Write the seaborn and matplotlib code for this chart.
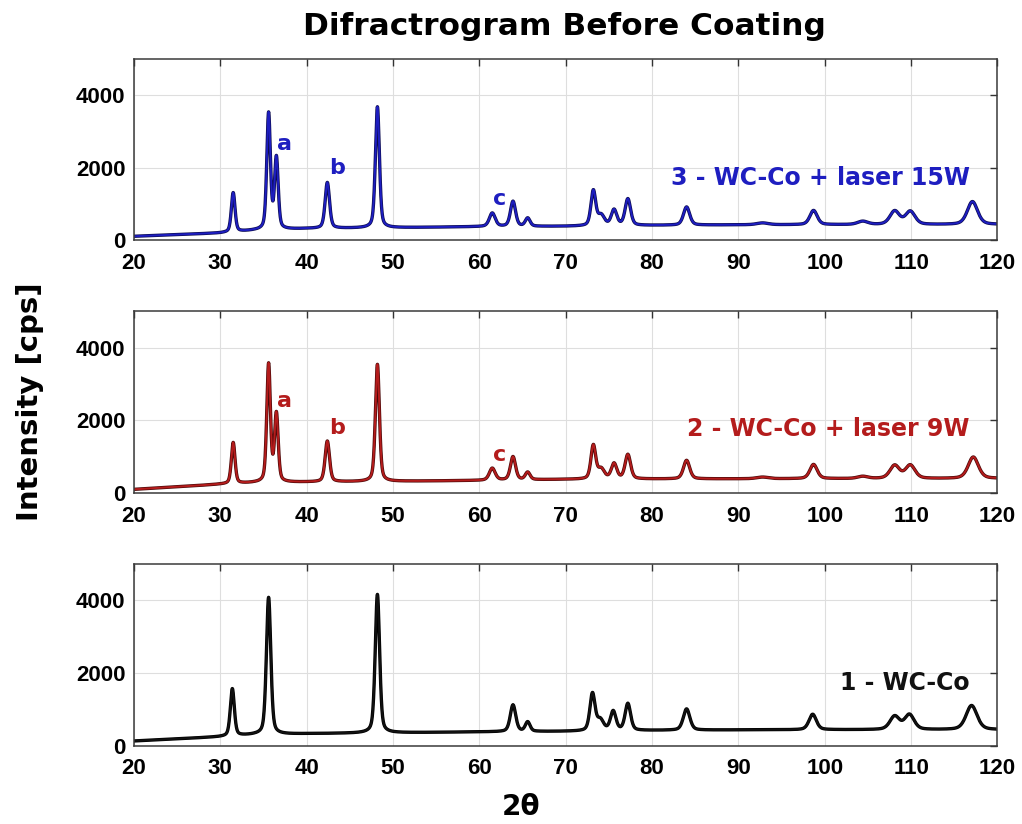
# XRD patterns of the WC-Co samples before coating
import numpy as np
import pandas as pd
import matplotlib
matplotlib.use('Agg')
import matplotlib.pyplot as plt
import matplotlib.patheffects as pe
import seaborn as sns

# --- Data (peak centre [deg], height above background [cps], FWHM [deg]) ---
# 3 - WC-Co + laser 15W
w15_pos = [31.5, 35.6, 36.5, 42.4, 48.2, 61.5, 63.9, 65.6, 73.2, 74.1, 75.6, 77.2, 84.0, 92.8, 98.7, 104.4, 108.1, 109.9, 117.1]
w15_amp = [1080, 3190, 1950, 1260, 3330, 370, 690, 225, 960, 280, 430, 730, 500, 50, 390, 90, 370, 360, 630]
w15_fwhm = [0.5, 0.5, 0.5, 0.6, 0.55, 0.8, 0.7, 0.65, 0.65, 0.9, 0.75, 0.75, 0.85, 1.6, 1.0, 1.4, 1.3, 1.3, 1.4]
w15_bg = [110, 200, 270, 320, 345, 375, 385, 410, 425, 430, 430, 435]

# 2 - WC-Co + laser 9W
w9_pos = [31.5, 35.6, 36.5, 42.4, 48.2, 61.5, 63.9, 65.6, 73.2, 74.1, 75.6, 77.2, 84.0, 92.8, 98.7, 104.4, 108.1, 109.9, 117.2]
w9_amp = [1130, 3240, 1860, 1120, 3220, 330, 640, 205, 920, 270, 420, 670, 510, 45, 390, 60, 360, 365, 590]
w9_fwhm = [0.5, 0.5, 0.5, 0.6, 0.55, 0.8, 0.7, 0.65, 0.65, 0.9, 0.75, 0.75, 0.85, 1.6, 1.0, 1.4, 1.3, 1.3, 1.4]
w9_bg = [100, 240, 280, 300, 320, 345, 375, 385, 390, 395, 395, 400]

# 1 - WC-Co
wc_pos = [31.4, 35.6, 48.2, 63.9, 65.6, 73.1, 74.0, 75.5, 77.2, 84.0, 98.6, 108.1, 109.8, 117.0]
wc_amp = [1300, 3770, 3810, 735, 260, 1020, 290, 530, 740, 585, 425, 365, 410, 665]
wc_fwhm = [0.55, 0.6, 0.6, 0.75, 0.65, 0.7, 0.9, 0.75, 0.75, 0.9, 1.0, 1.3, 1.3, 1.5]
wc_bg = [130, 245, 300, 330, 355, 380, 395, 420, 435, 440, 440, 440]

bg_x = [20, 30, 34, 40, 50, 60, 70, 80, 90, 100, 110, 120]

# labels for the marked peaks (a, b, c) in the laser panels
mark_letters = ['a', 'b', 'c']
w15_mark_x = [37.4, 43.5, 62.4]
w15_mark_y = [2640, 1980, 1130]
w9_mark_x = [37.4, 43.5, 62.4]
w9_mark_y = [2520, 1790, 1040]


def pattern(pos, amp, fwhm, bg, eta=0.4):
    tt = np.linspace(20, 120, 4001)
    y = np.interp(tt, bg_x, bg)
    for p, a, w in zip(pos, amp, fwhm):
        hw = w / 2
        lor = 1 / (1 + ((tt - p) / hw) ** 2)
        gau = np.exp(-np.log(2) * ((tt - p) / hw) ** 2)
        y = y + a * (eta * lor + (1 - eta) * gau)
    return pd.DataFrame({'two_theta': tt, 'intensity': y})


sns.set_theme(style='white')
plt.rcParams['font.family'] = ['Liberation Sans', 'DejaVu Sans']
plt.rcParams['font.weight'] = 'bold'
plt.rcParams['text.color'] = 'black'
plt.rcParams['xtick.color'] = 'black'
plt.rcParams['ytick.color'] = 'black'

panels = [
    (pattern(w15_pos, w15_amp, w15_fwhm, w15_bg), '#1e1ec0', '#0c0c50',
     '3 - WC-Co + laser 15W', 1705, w15_mark_x, w15_mark_y),
    (pattern(w9_pos, w9_amp, w9_fwhm, w9_bg), '#b41c1c', '#4a0808',
     '2 - WC-Co + laser 9W', 1750, w9_mark_x, w9_mark_y),
    (pattern(wc_pos, wc_amp, wc_fwhm, wc_bg), '#111111', '#000000',
     '1 - WC-Co', 1725, None, None),
]

fig, axes = plt.subplots(3, 1, figsize=(10.22, 8.24), dpi=100)
fig.subplots_adjust(left=0.131, right=0.976, top=0.929, bottom=0.095, hspace=0.39)

for ax, (df, col, edge, label, label_y, mx, my) in zip(axes, panels):
    sns.lineplot(data=df, x='two_theta', y='intensity', ax=ax, color=col,
                 lw=1.4, estimator=None, sort=False,
                 path_effects=[pe.Stroke(linewidth=2.4, foreground=edge), pe.Normal()])
    ax.set_xlim(20, 120)
    ax.set_ylim(0, 5000)
    ax.set_xticks(range(20, 121, 10))
    ax.set_yticks([0, 2000, 4000])
    ax.set_xlabel('')
    ax.set_ylabel('')
    ax.grid(True, color='#dedede', lw=0.8)
    ax.tick_params(axis='both', direction='in', top=True, right=True,
                   length=5, width=1, color='#333333', labelcolor='black', labelsize=16)
    ax.tick_params(axis='x', pad=9)
    ax.tick_params(axis='y', pad=6)
    for s in ax.spines.values():
        s.set_color('#3a3a3a')
        s.set_linewidth(1.1)
    ax.text(116.8, label_y, label, color=col, ha='right', va='center',
            fontsize=17, fontweight='bold', family='DejaVu Sans')
    if mx is not None:
        for letter, x, y in zip(mark_letters, mx, my):
            ax.text(x, y, letter, color=col, ha='center', va='center',
                    fontsize=16, fontweight='bold', family='DejaVu Sans')

fig.text(0.552, 0.968, 'Difractrogram Before Coating', ha='center', va='center',
         fontsize=22.5, fontweight='bold', family='DejaVu Sans', color='black')
fig.text(0.029, 0.513, 'Intensity [cps]', rotation=90, ha='center', va='center',
         fontsize=21, fontweight='bold', family='DejaVu Sans', color='black')
fig.text(0.51, 0.021, '2θ', ha='center', va='center',
         fontsize=20, fontweight='bold', family='DejaVu Sans', color='black')

plt.savefig('out.png', dpi=100)
